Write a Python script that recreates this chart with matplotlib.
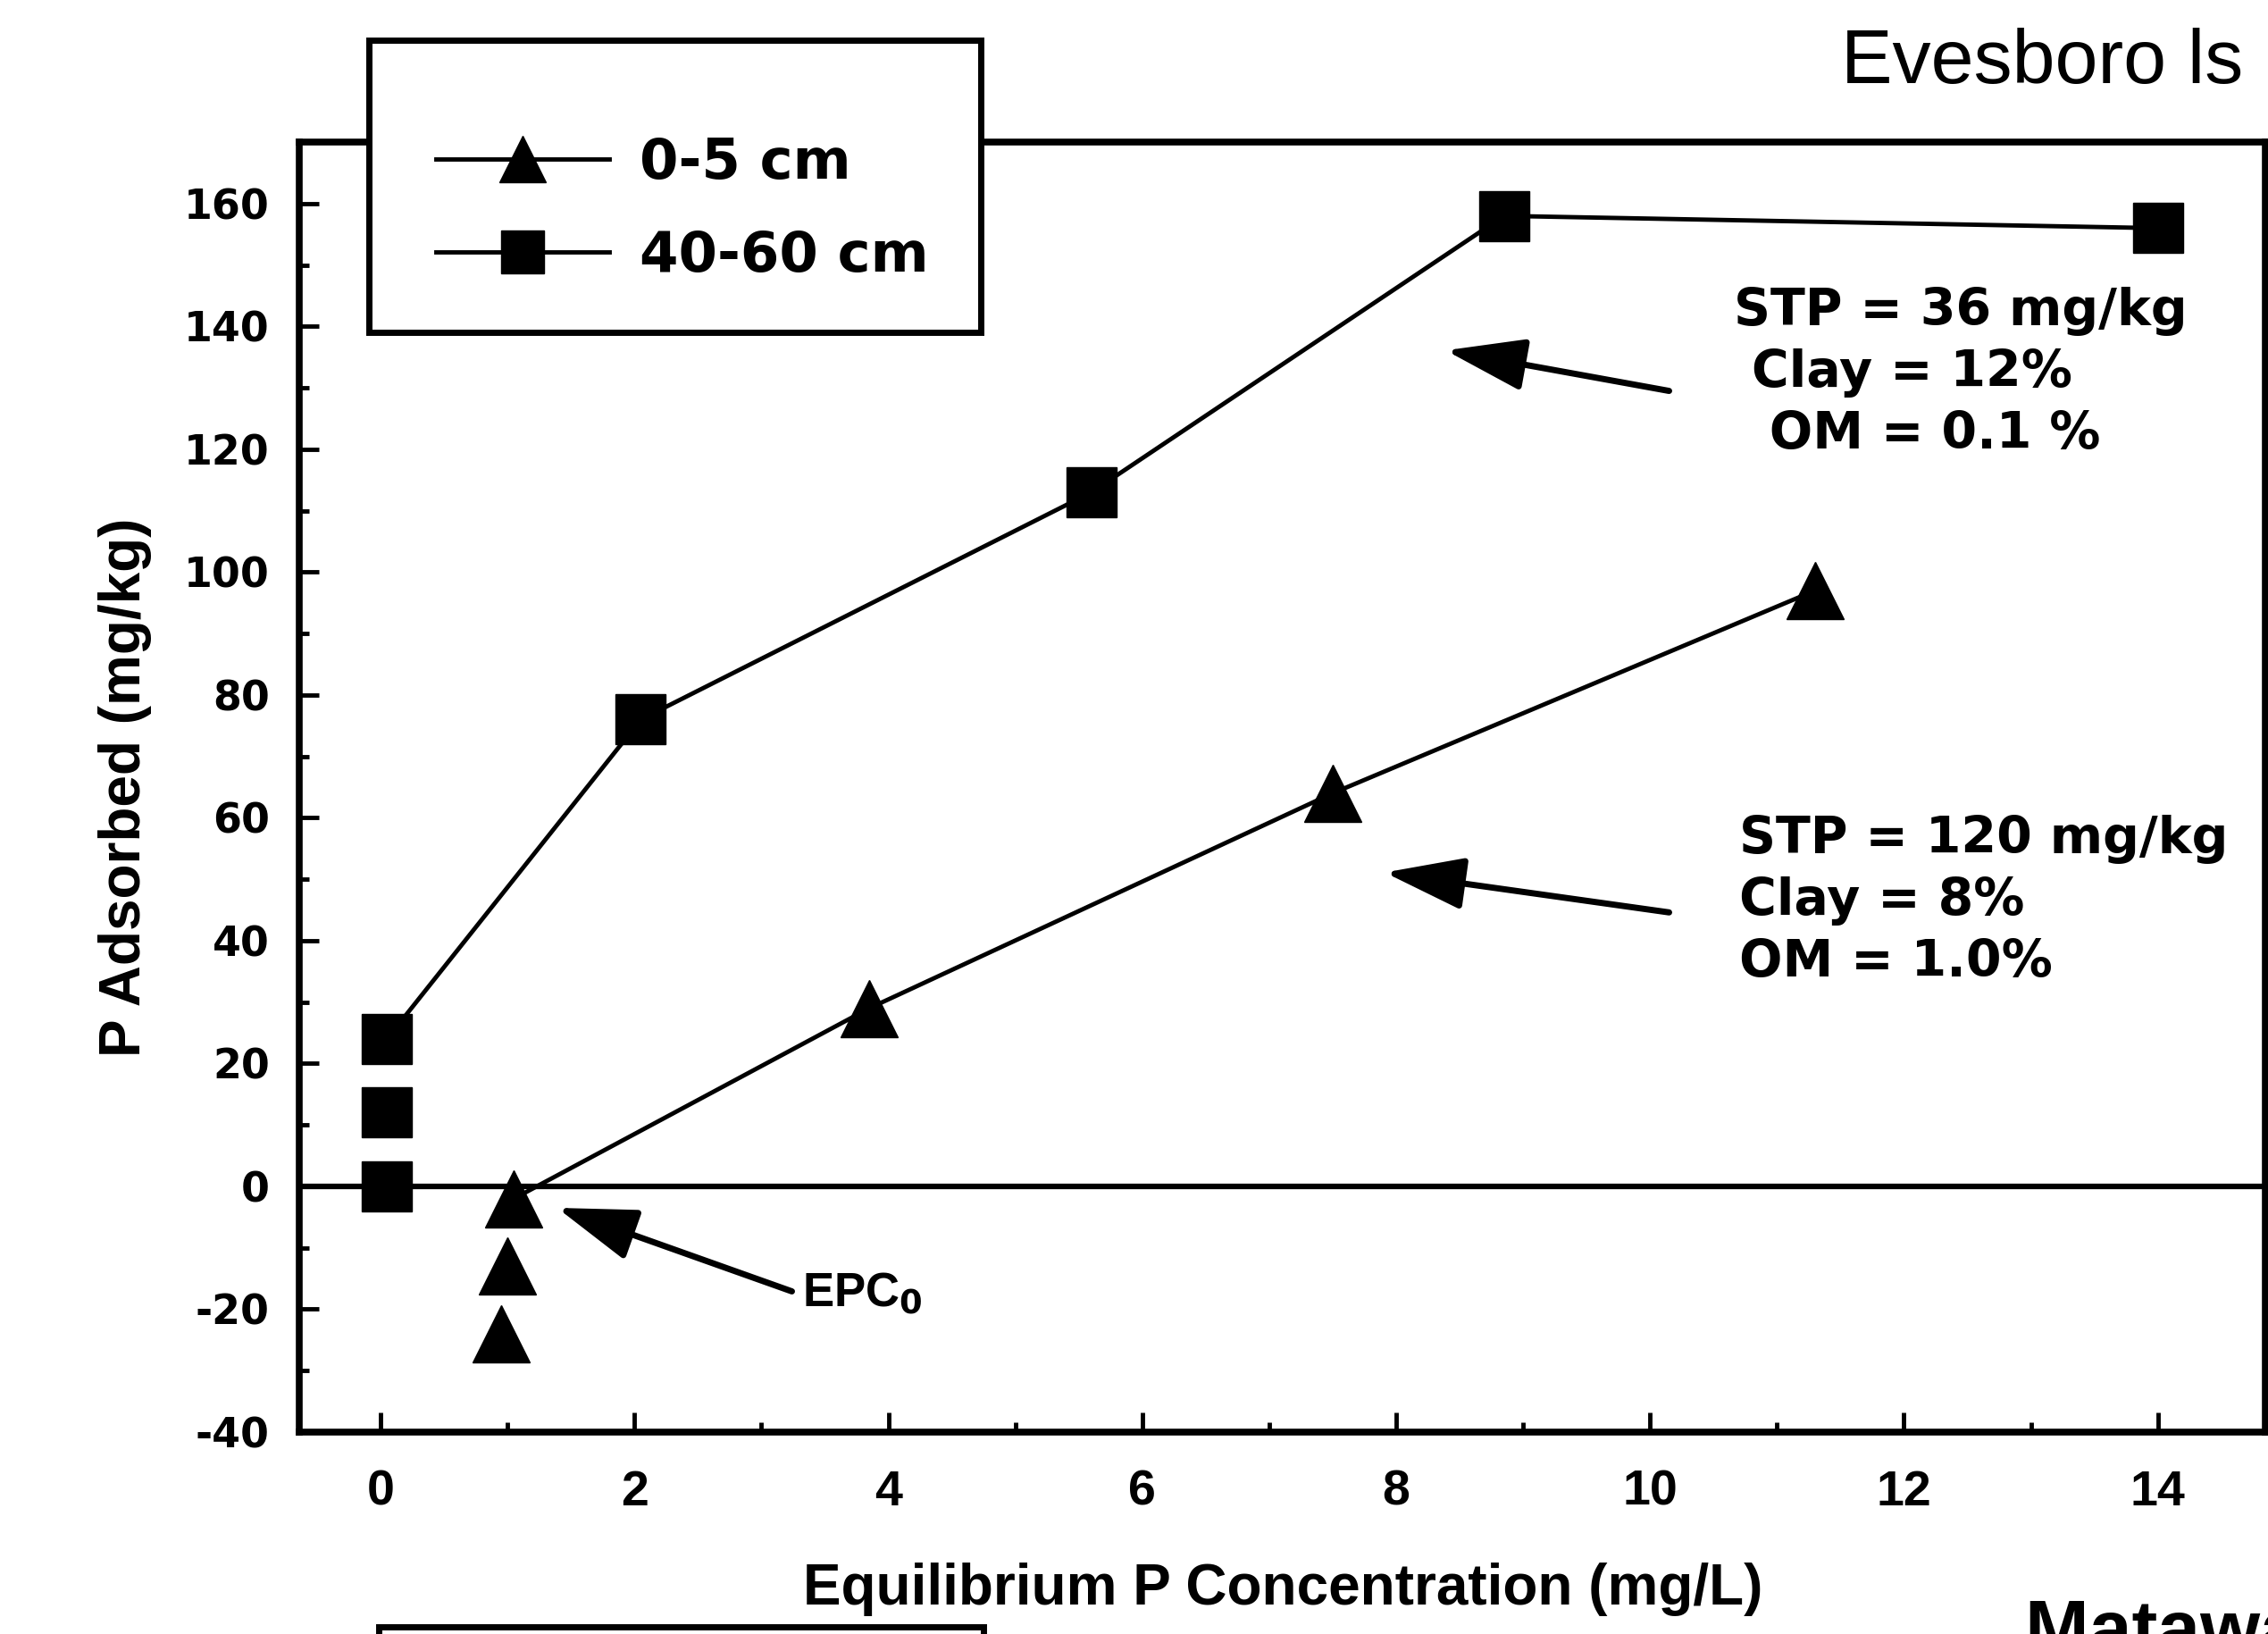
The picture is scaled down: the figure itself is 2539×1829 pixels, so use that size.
import matplotlib
matplotlib.use('Agg')
import matplotlib.pyplot as plt
from matplotlib.patches import Rectangle
from matplotlib.lines import Line2D

plt.rcParams['axes.unicode_minus'] = False

# 0-5 cm depth (triangles)
tri_x = [0.95, 1.0, 1.05, 3.85, 7.5, 11.3]
tri_y = [-24, -13, -2, 29, 64, 97]
# 40-60 cm depth (squares)
sq_x = [0.05, 0.05, 0.05, 2.05, 5.6, 8.85, 14.0]
sq_y = [0, 12, 24, 76, 113, 158, 156]

x_ticks = [0, 2, 4, 6, 8, 10, 12, 14]
y_ticks = [-40, -20, 0, 20, 40, 60, 80, 100, 120, 140, 160]

sans = ['Liberation Sans', 'DejaVu Sans']

fig = plt.figure(figsize=(25.39, 18.29), dpi=100)
ax = fig.add_axes([0.132, 0.1236, 0.867, 0.7894])

ax.axhline(0, color='black', lw=4.5, zorder=1)
# line for the triangles starts at the EPCo point
ax.plot(tri_x[2:], tri_y[2:], color='black', lw=3.5, zorder=2)
ax.plot(tri_x, tri_y, ls='none', marker='^', ms=46, color='black', zorder=3)
# line for the squares starts at the top square at x=0
ax.plot(sq_x[2:], sq_y[2:], color='black', lw=3.5, zorder=2)
ax.plot(sq_x, sq_y, ls='none', marker='s', ms=40, color='black', zorder=3)

ax.set_xlim(-0.64, 14.85)
ax.set_ylim(-40, 170)
ax.set_xticks(x_ticks)
ax.set_xticks(range(1, 15, 2), minor=True)
ax.set_yticks(y_ticks)
ax.set_yticks(range(-30, 170, 20), minor=True)
ax.tick_params(which='major', direction='in', length=16, width=3.5, pad=24)
ax.tick_params(which='minor', direction='in', length=8, width=3.5)
ax.tick_params(axis='x', pad=30)
for lab in ax.get_yticklabels():
    lab.set_fontfamily('DejaVu Sans')
    lab.set_fontweight('bold')
    lab.set_fontsize(33)
for lab in ax.get_xticklabels():
    lab.set_fontfamily(sans)
    lab.set_fontweight('bold')
    lab.set_fontsize(40)
for sp in ax.spines.values():
    sp.set_linewidth(5.5)

ax.set_xlabel('Equilibrium P Concentration (mg/L)', fontsize=46,
              fontweight='bold', family=sans, labelpad=38)
ax.set_ylabel('P Adsorbed (mg/kg)', fontsize=46, fontweight='bold',
              family=sans, labelpad=26)

# annotations
arrow = dict(arrowstyle='-|>,head_length=0.55,head_width=0.18',
             color='black', lw=5, mutation_scale=100, shrinkA=0, shrinkB=0)
ax.annotate('', xy=(8.39, 136.1), xytext=(10.15, 129.5), arrowprops=arrow)
ax.annotate('', xy=(7.91, 51.1), xytext=(10.15, 44.6), arrowprops=arrow)
ax.annotate('', xy=(1.39, -3.5), xytext=(3.24, -17.1), arrowprops=arrow)

ax.text(10.66, 146.5, 'STP = 36 mg/kg\n Clay = 12%\n  OM = 0.1 %',
        fontsize=41, fontweight='bold', family='DejaVu Sans', va='top',
        ha='left', linespacing=1.33)
ax.text(10.7, 60.5, 'STP = 120 mg/kg\nClay = 8%\nOM = 1.0%', fontsize=41,
        fontweight='bold', family='DejaVu Sans', va='top', ha='left',
        linespacing=1.33)
ax.text(3.32, -17.6, r'EPC$_\mathbf{0}$', fontsize=38, fontweight='bold',
        family=sans, va='center', ha='left')

# legend box sitting over the top spine
fig.patches.append(Rectangle((0.1627, 0.7966), 0.2698, 0.1788,
                             transform=fig.transFigure, facecolor='white',
                             edgecolor='black', lw=5, zorder=4))
handles = [Line2D([], [], color='black', lw=3.5, marker='^', ms=38),
           Line2D([], [], color='black', lw=3.5, marker='s', ms=34)]
leg = fig.legend(handles, ['0-5 cm', '40-60 cm'], loc='upper left',
                 bbox_to_anchor=(0.17, 0.947), frameon=False,
                 handlelength=3.1, labelspacing=0.7, handletextpad=0.55,
                 prop={'family': 'DejaVu Sans', 'weight': 'bold', 'size': 45})
leg.set_zorder(5)

fig.text(0.989, 0.949, 'Evesboro ls', fontsize=62, ha='right',
         va='baseline', family=sans)
fig.text(0.893, 0.022, 'Matawan sl', fontsize=62, ha='left', va='top',
         fontweight='bold', family=sans)
# top edge of the next panel's legend box
fig.patches.append(Rectangle((0.167, -0.1), 0.2666, 0.1044,
                             transform=fig.transFigure, facecolor='white',
                             edgecolor='black', lw=5, zorder=4))

fig.savefig('out.png', dpi=100)
